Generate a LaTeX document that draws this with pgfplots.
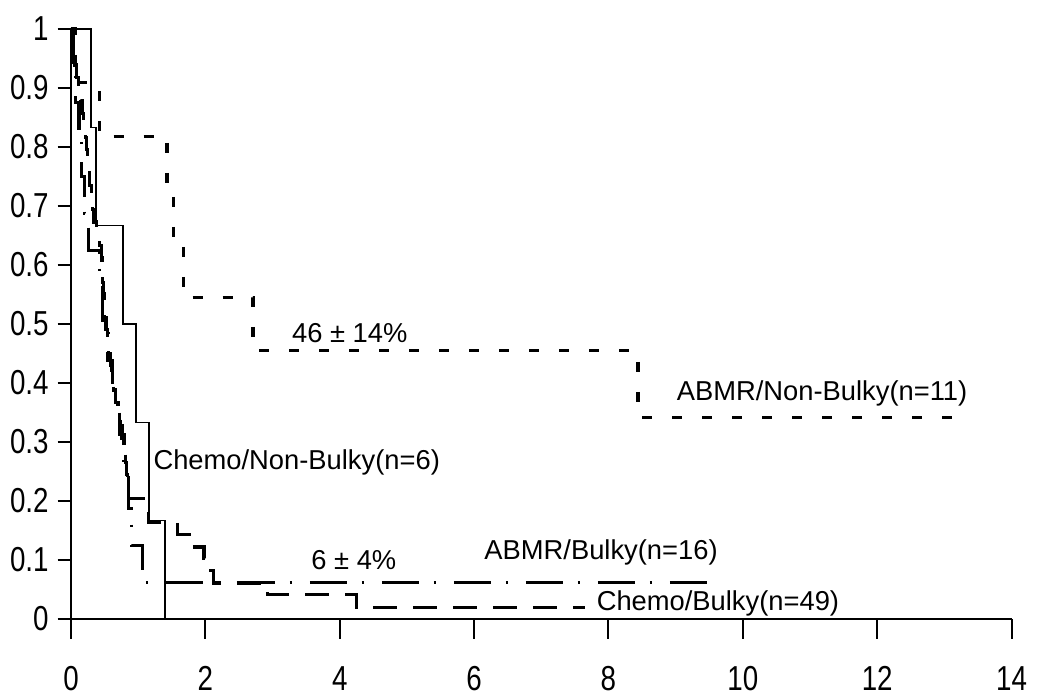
\documentclass[border=0pt]{standalone}
\usepackage{pgfplots}
\pgfplotsset{compat=1.18}
\usepackage{fontspec}
\setmainfont{Liberation Sans}
\newfontfamily\tickfont[FakeStretch=0.8]{Liberation Sans}
\begin{document}
\begin{tikzpicture}
\begin{axis}[
  scale only axis,
  width=705.4pt, height=442.5pt,
  xmin=0, xmax=14, ymin=0, ymax=1,
  axis x line*=bottom, axis y line*=left,
  axis line style={line width=1.5pt,-},
  xtick={0,2,...,14},
  ytick={0,0.1,...,1},
  yticklabels={0,0.1,0.2,0.3,0.4,0.5,0.6,0.7,0.8,0.9,1},
  tick align=outside,
  xtick style={line width=1.5pt,black,/pgfplots/major tick length=15pt},
  ytick style={line width=1.5pt,black,/pgfplots/major tick length=10pt},
  /pgf/number format/assume math mode=true,
  ticklabel style={font=\tickfont\fontsize{26}{28}\selectfont},
  xticklabel style={yshift=-28pt},
  yticklabel style={xshift=-9pt},
  clip=false,
  every axis plot/.append style={const plot, black, mark=none},
]
% Chemo/Non-Bulky (n=6)
\addplot[line width=1.4pt] coordinates {
(0,1) (0.30,0.833) (0.37,0.667) (0.77,0.5) (0.97,0.333) (1.16,0.167) (1.40,0)
};
% ABMR/Non-Bulky (n=11)
\addplot[line width=2.4pt, dash pattern=on 7.5pt off 15pt] coordinates {
(0,1) (0.06,0.909) (0.42,0.818) (1.43,0.727) (1.52,0.636) (1.67,0.545) (2.71,0.455) (8.44,0.341) (13.26,0.341)
};
% ABMR/Bulky (n=16)
\addplot[line width=2.4pt, dash pattern=on 27.75pt off 11.25pt on 1.5pt off 13.5pt] coordinates {
(0,1) (0.03,0.9375) (0.07,0.875) (0.12,0.8125) (0.16,0.75) (0.20,0.6875) (0.26,0.625) (0.42,0.5625) (0.47,0.5) (0.55,0.4375) (0.62,0.375) (0.72,0.3125) (0.79,0.25) (0.85,0.1875) (0.90,0.125) (1.07,0.0625) (9.58,0.0625)
};
% Chemo/Bulky (n=49)
\addplot[line width=2.4pt, dash pattern=on 18pt off 12pt] coordinates {
(0,1) (0.02,0.980) (0.04,0.959) (0.06,0.939) (0.08,0.918) (0.11,0.898) (0.14,0.878) (0.17,0.857) (0.19,0.837) (0.21,0.816) (0.23,0.796) (0.25,0.776) (0.27,0.755) (0.28,0.735) (0.30,0.714) (0.32,0.694) (0.34,0.673) (0.38,0.653) (0.42,0.633) (0.45,0.612) (0.46,0.592) (0.47,0.571) (0.48,0.551) (0.49,0.531) (0.50,0.510) (0.52,0.490) (0.54,0.469) (0.56,0.449) (0.59,0.429) (0.61,0.408) (0.63,0.388) (0.66,0.367) (0.70,0.347) (0.73,0.327) (0.76,0.306) (0.79,0.286) (0.81,0.265) (0.83,0.245) (0.84,0.224) (0.86,0.204) (1.12,0.184) (1.15,0.163) (1.58,0.143) (1.76,0.122) (1.98,0.102) (2.05,0.082) (2.12,0.061) (2.93,0.041) (4.25,0.020) (7.65,0.020)
};
\begin{scope}[every node/.style={font=\fontsize{20.5}{24}\selectfont, inner sep=0pt}]
\node at (axis cs:4.15,0.485) {46 ± 14\%};
\node at (axis cs:11.18,0.383) {ABMR/Non-Bulky(n=11)};
\node at (axis cs:3.36,0.266) {Chemo/Non-Bulky(n=6)};
\node at (axis cs:4.21,0.100) {6 ± 4\%};
\node at (axis cs:7.89,0.112) {ABMR/Bulky(n=16)};
\node at (axis cs:9.63,0.027) {Chemo/Bulky(n=49)};
\end{scope}
\end{axis}
\path (-53.25pt,-59.25pt) rectangle (734.25pt,464.25pt);
\end{tikzpicture}
\end{document}
